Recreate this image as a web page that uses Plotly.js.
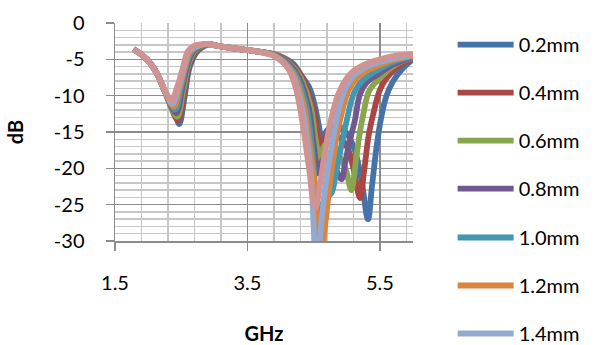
<!DOCTYPE html>
<html><head><meta charset="utf-8">
<script src="https://cdn.plot.ly/plotly-3.0.1.min.js"></script>
<style>html,body{margin:0;padding:0;background:#fff;} #chart{width:597px;height:345px;}</style>
</head><body><div id="chart"></div>
<script>
const seriesNames = ['0.2mm','0.4mm','0.6mm','0.8mm','1.0mm','1.2mm','1.4mm','1.6mm'];
const seriesColors = ['#4572A7','#AA4643','#89A54E','#71588F','#4198AF','#DB843D','#93A9CF','#D19392'];
const showInLegend = [true,true,true,true,true,true,true,false];
const legendOf = ['legend','legend','legend','legend','legend2','legend2','legend2','legend2'];

const x_02 = [1.78,1.98,2.13,2.25,2.35,2.41,2.47,2.55,2.63,2.745,2.9,3.08,3.3,3.6,3.9,4.05,4.2,4.31,4.44,4.52,4.58,4.63,4.7,4.85,5.0,5.12,5.22,5.32,5.38,5.45,5.52,5.6,5.7,5.85,6.0];
const y_02 = [-3.6,-5.0,-6.9,-9.4,-11.4,-12.6,-13.9,-10.2,-6.0,-3.9,-3.0,-3.2,-3.5,-3.85,-4.3,-4.8,-5.7,-7.2,-9.0,-11.5,-14.2,-16.5,-14.8,-14.2,-15.2,-17.5,-21.5,-27,-22.5,-17,-13,-10,-8,-6.2,-5.0];

const x_04 = [1.78,1.98,2.13,2.25,2.455,2.54,2.616,2.72,2.88,3.08,3.3,3.6,3.996,4.289,4.487,4.55,4.59,4.62,4.7,4.85,5.0,5.1,5.2,5.26,5.33,5.4,5.5,5.6,5.75,5.9,6.0];
const y_04 = [-3.6,-5.0,-6.9,-9.35,-13.4,-9.9,-6.0,-3.9,-2.95,-3.2,-3.5,-3.85,-4.6,-6.9,-11.5,-14.5,-16.5,-17.2,-15.5,-15.5,-17,-20,-24.1,-20.5,-15.5,-12.5,-9.2,-7.6,-6.2,-5.3,-4.9];

const x_06 = [1.78,1.98,2.13,2.25,2.44,2.525,2.60,2.70,2.87,3.08,3.3,3.6,3.981,4.264,4.454,4.52,4.56,4.59,4.67,4.8,4.9,4.98,5.07,5.13,5.19,5.25,5.33,5.42,5.5,5.65,5.8,6.0];
const y_06 = [-3.6,-5.0,-6.9,-9.35,-12.9,-9.6,-6.0,-3.9,-2.95,-3.2,-3.5,-3.85,-4.6,-6.9,-11.5,-15.5,-17.5,-18.6,-16.8,-17,-18.5,-20,-23,-19.5,-15.5,-12.5,-9.5,-8.3,-7.6,-6.3,-5.4,-4.8];

const x_08 = [1.78,1.98,2.13,2.25,2.425,2.51,2.587,2.68,2.86,3.08,3.3,3.6,3.967,4.24,4.421,4.49,4.53,4.56,4.64,4.74,4.84,4.92,4.98,5.05,5.12,5.2,5.3,5.5,5.7,6.0];
const y_08 = [-3.6,-5.0,-6.9,-9.3,-12.4,-9.3,-6.0,-3.9,-2.9,-3.2,-3.5,-3.85,-4.6,-6.9,-11.5,-16,-19,-20.7,-18.8,-18.8,-20.3,-21.5,-19,-16,-13.5,-9.8,-8.2,-6.9,-5.7,-4.7];

const x_10 = [1.78,1.98,2.13,2.25,2.41,2.495,2.573,2.66,2.86,3.08,3.3,3.6,3.953,4.216,4.389,4.46,4.51,4.55,4.62,4.7,4.77,4.84,4.92,4.99,5.06,5.12,5.25,5.5,5.75,6.0];
const y_10 = [-3.6,-5.0,-6.9,-9.3,-11.9,-9.0,-6.0,-3.9,-2.9,-3.2,-3.5,-3.85,-4.6,-6.9,-11.5,-16,-21,-26.2,-25,-24,-23.4,-20.5,-16.8,-13.8,-11,-9.4,-7.8,-6.3,-5.2,-4.6];

const x_12 = [1.78,1.98,2.13,2.25,2.39,2.48,2.56,2.64,2.85,3.08,3.3,3.6,3.939,4.19,4.356,4.43,4.5,4.56,4.6,4.66,4.72,4.79,4.86,4.94,5.03,5.15,5.3,5.5,5.75,6.0];
const y_12 = [-3.6,-5.0,-6.9,-9.3,-11.5,-8.8,-6.0,-3.9,-2.9,-3.2,-3.5,-3.85,-4.6,-6.9,-11.5,-16,-21,-28,-34,-29,-24,-19,-15,-11.8,-9.2,-7.6,-6.6,-5.8,-5.0,-4.5];

const x_14 = [1.78,1.98,2.13,2.25,2.37,2.465,2.544,2.62,2.85,3.08,3.3,3.6,3.924,4.167,4.323,4.40,4.46,4.5,4.54,4.59,4.67,4.75,4.85,4.96,5.1,5.3,5.5,5.75,6.0];
const y_14 = [-3.6,-5.0,-6.9,-9.2,-11.1,-8.6,-6.0,-3.9,-2.9,-3.2,-3.5,-3.85,-4.6,-6.9,-11.5,-16,-21,-28,-36,-30,-23,-18.2,-13.2,-9.4,-7.3,-6.0,-5.4,-4.8,-4.4];

const x_16 = [1.78,1.98,2.13,2.25,2.35,2.45,2.53,2.60,2.7,2.85,3.08,3.3,3.6,3.91,4.11,4.21,4.29,4.37,4.44,4.49,4.53,4.6,4.67,4.75,4.87,5.0,5.1,5.3,5.5,5.75,6.0];
const y_16 = [-3.6,-5.0,-6.9,-9.2,-10.6,-8.5,-6.0,-3.9,-3.1,-2.9,-3.2,-3.5,-3.85,-4.6,-6.2,-8.3,-11.5,-16.1,-20.7,-24.3,-25.4,-22,-17.8,-13.8,-9.8,-7.6,-6.6,-5.6,-5.0,-4.5,-4.3];

const xTickVals = [1.5, 3.5, 5.5];
const xTickText = ['1.5', '3.5', '5.5'];
const yTickVals = [0, -5, -10, -15, -20, -25, -30];
const yTickText = ['0', '-5', '-10', '-15', '-20', '-25', '-30'];

const xs = [x_02, x_04, x_06, x_08, x_10, x_12, x_14, x_16];
const ys = [y_02, y_04, y_06, y_08, y_10, y_12, y_14, y_16];

const traces = seriesNames.map((name, i) => ({
  type: 'scatter', mode: 'lines', name: name,
  x: xs[i], y: ys[i],
  line: {color: seriesColors[i], width: 5.8, shape: 'spline', smoothing: 1},
  showlegend: showInLegend[i],
  legend: legendOf[i],
  legendgroup: 'g' + i
}));

const major = '#8c8c8c', minorC = '#c6c6c6';
const legendCommon = {
  xanchor: 'left', yanchor: 'top', font: {size: 20}, tracegroupgap: 19, itemwidth: 56,
  bgcolor: 'rgba(0,0,0,0)', traceorder: 'grouped'
};
const layout = {
  width: 597, height: 345,
  margin: {l: 115, r: 184, t: 23, b: 104, autoexpand: false},
  paper_bgcolor: '#ffffff', plot_bgcolor: '#ffffff',
  font: {family: 'Lato, sans-serif', size: 20, color: '#000000'},
  showlegend: true,
  xaxis: {
    range: [1.5, 6.0], tickmode: 'array', tickvals: xTickVals, ticktext: xTickText,
    showgrid: true, gridcolor: major, gridwidth: 1.5,
    showline: true, linecolor: major, linewidth: 1.5,
    ticks: 'outside', ticklen: 8, tickcolor: major, tickwidth: 1.5,
    ticklabelstandoff: 15, zeroline: false, fixedrange: true,
    minor: {tick0: 1.5, dtick: 0.4, showgrid: true, gridcolor: minorC, gridwidth: 1.5, ticks: ''},
    title: {text: '<b>GHz</b>', font: {size: 20}, standoff: 43}
  },
  yaxis: {
    range: [-30, 0], tickmode: 'array', tickvals: yTickVals, ticktext: yTickText,
    showgrid: true, gridcolor: major, gridwidth: 1.5,
    showline: true, linecolor: major, linewidth: 1.5,
    ticks: 'outside', ticklen: 8, tickcolor: major, tickwidth: 1.5,
    ticklabelstandoff: 17, zeroline: false, fixedrange: true,
    minor: {tick0: 0, dtick: 1, showgrid: true, gridcolor: minorC, gridwidth: 1.5, ticks: ''},
    title: {text: '<b>dB</b>', font: {size: 20}, standoff: 25}
  },
  legend: Object.assign({x: 1.133, y: 0.99}, legendCommon),
  legend2: Object.assign({x: 1.133, y: 0.1055}, legendCommon)
};

Plotly.newPlot('chart', traces, layout, {staticPlot: true, displayModeBar: false});
</script></body></html>
